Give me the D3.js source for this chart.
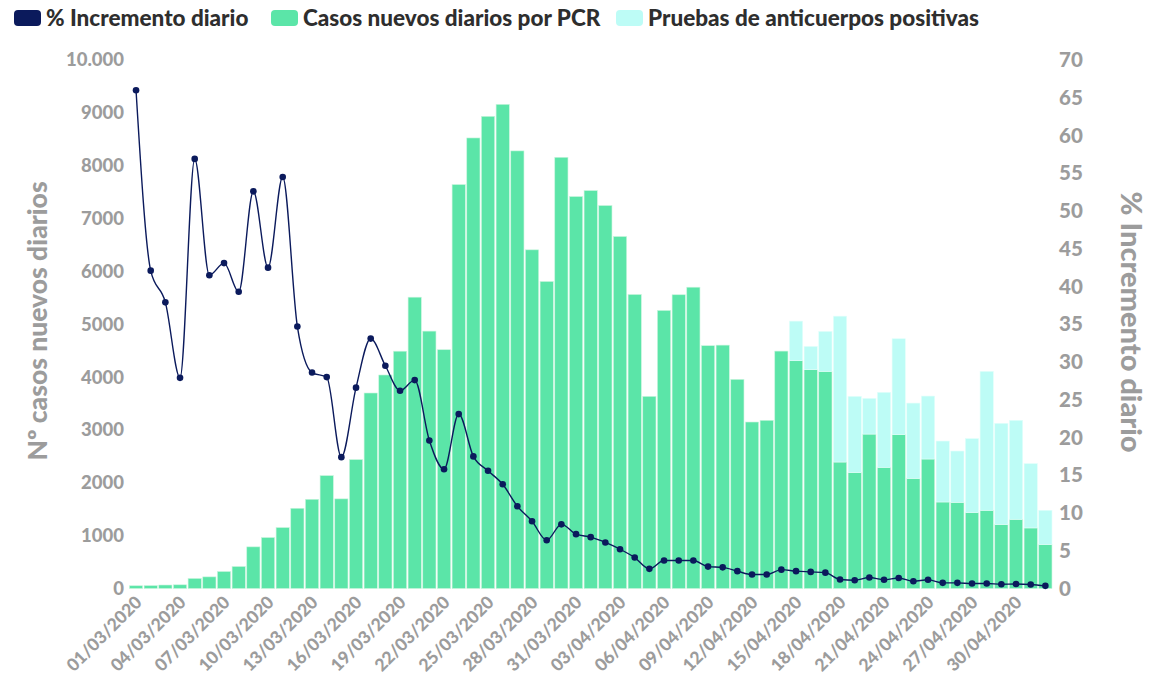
<!DOCTYPE html>
<html><head><meta charset="utf-8">
<script src="https://cdn.jsdelivr.net/npm/d3@7"></script>
<style>
html,body{margin:0;padding:0;background:#fff;}
svg{display:block;font-family:Lato,"Open Sans",sans-serif;}
</style></head>
<body>
<svg id="chart" width="1155" height="678"></svg>
<script>
const dates = ["01/03/2020","02/03/2020","03/03/2020","04/03/2020","05/03/2020","06/03/2020","07/03/2020","08/03/2020","09/03/2020","10/03/2020",
"11/03/2020","12/03/2020","13/03/2020","14/03/2020","15/03/2020","16/03/2020","17/03/2020","18/03/2020","19/03/2020","20/03/2020",
"21/03/2020","22/03/2020","23/03/2020","24/03/2020","25/03/2020","26/03/2020","27/03/2020","28/03/2020","29/03/2020","30/03/2020",
"31/03/2020","01/04/2020","02/04/2020","03/04/2020","04/04/2020","05/04/2020","06/04/2020","07/04/2020","08/04/2020","09/04/2020",
"10/04/2020","11/04/2020","12/04/2020","13/04/2020","14/04/2020","15/04/2020","16/04/2020","17/04/2020","18/04/2020","19/04/2020",
"20/04/2020","21/04/2020","22/04/2020","23/04/2020","24/04/2020","25/04/2020","26/04/2020","27/04/2020","28/04/2020","29/04/2020",
"30/04/2020","01/05/2020","02/05/2020"];

const casosPCR = [52,55,66,70,190,220,321,416,788,964,
1153,1518,1688,2136,1696,2439,3699,4040,4490,5512,
4870,4518,7643,8525,8934,9161,8280,6408,5809,8159,
7416,7529,7246,6660,5563,3635,5261,5558,5701,4594,
4605,3957,3150,3182,4492,4310,4140,4108,2393,2193,
2922,2293,2911,2085,2450,1637,1631,1437,1480,1210,
1310,1146,832];

const anticuerpos = [0,0,0,0,0,0,0,0,0,0,
0,0,0,0,0,0,0,0,0,0,
0,0,0,0,0,0,0,0,0,0,
0,0,0,0,0,0,0,0,0,0,
0,0,0,0,0,749,440,756,2760,1442,
675,1418,1815,1423,1191,1153,970,1399,2628,1915,
1872,1217,648];

const incremento = [66.0,42.1,37.9,27.9,56.9,41.5,43.1,39.3,52.6,42.5,
54.5,34.7,28.6,28.0,17.4,26.6,33.1,29.5,26.2,27.6,
19.6,15.8,23.1,17.5,15.6,13.8,10.9,8.9,6.4,8.5,
7.2,6.8,6.1,5.2,4.1,2.6,3.7,3.7,3.7,2.9,
2.8,2.3,1.85,1.85,2.5,2.3,2.2,2.1,1.2,1.1,
1.45,1.15,1.4,0.97,1.15,0.75,0.75,0.66,0.66,0.57,
0.6,0.53,0.35];

const xTickLabels = ["01/03/2020","04/03/2020","07/03/2020","10/03/2020","13/03/2020","16/03/2020","19/03/2020",
"22/03/2020","25/03/2020","28/03/2020","31/03/2020","03/04/2020","06/04/2020","09/04/2020","12/04/2020",
"15/04/2020","18/04/2020","21/04/2020","24/04/2020","27/04/2020","30/04/2020"];
const leftTicks = [0,1000,2000,3000,4000,5000,6000,7000,8000,9000,10000];
const leftTickLabels = ["0","1000","2000","3000","4000","5000","6000","7000","8000","9000","10.000"];
const rightTicks = [0,5,10,15,20,25,30,35,40,45,50,55,60,65,70];
const seriesNames = ["% Incremento diario","Casos nuevos diarios por PCR","Pruebas de anticuerpos positivas"];
const leftTitle = "Nº casos nuevos diarios";
const rightTitle = "% Incremento diario";

const C_LINE = "#0b1a5c", C_PCR = "#5be5a8", C_AB = "#bdfcf6", C_TXT = "#9c9c9c";

const svg = d3.select("#chart");
const x = d3.scaleBand().domain(dates).range([128.7, 1052.7]).paddingInner(0.1).paddingOuter(0.05);
const yL = d3.scaleLinear().domain([0,10000]).range([588.5,60]);
const yR = d3.scaleLinear().domain([0,70]).range([588.5,60]);

const data = dates.map((d,i)=>({d, pcr:casosPCR[i], ab:anticuerpos[i], pct:incremento[i]}));

// bars
const gB = svg.append("g");
gB.selectAll("rect.pcr").data(data).join("rect")
  .attr("x", d=>x(d.d)).attr("width", x.bandwidth())
  .attr("y", d=>yL(d.pcr)).attr("height", d=>yL(0)-yL(d.pcr))
  .attr("fill", C_PCR).attr("stroke","#c8f5dd").attr("stroke-width",0.6);
gB.selectAll("rect.ab").data(data.filter(d=>d.ab>0)).join("rect")
  .attr("x", d=>x(d.d)).attr("width", x.bandwidth())
  .attr("y", d=>yL(d.pcr+d.ab)).attr("height", d=>yL(d.pcr)-yL(d.pcr+d.ab))
  .attr("fill", C_AB).attr("stroke","#e2fffb").attr("stroke-width",0.6);

// line
const cx = d=>x(d.d)+x.bandwidth()/2;
svg.append("path").datum(data)
  .attr("d", d3.line().x(cx).y(d=>yR(d.pct)).curve(d3.curveMonotoneX))
  .attr("fill","none").attr("stroke",C_LINE).attr("stroke-width",1.4);
svg.append("g").selectAll("circle").data(data).join("circle")
  .attr("cx",cx).attr("cy",d=>yR(d.pct)).attr("r",3.3).attr("fill",C_LINE);

const W = "900";
// left axis
const axL = d3.axisLeft(yL).tickValues(leftTicks).tickSize(0).tickPadding(0)
  .tickFormat((d,i)=>leftTickLabels[i]);
const gL = svg.append("g").attr("transform","translate(124,0)").call(axL);
gL.select(".domain").remove();
gL.selectAll("text").attr("fill",C_TXT).style("font-size","18.5px").style("font-weight",W).style("font-family","Lato");

// right axis
const axR = d3.axisRight(yR).tickValues(rightTicks).tickSize(0).tickPadding(0);
const gR = svg.append("g").attr("transform","translate(1059,0)").call(axR);
gR.select(".domain").remove();
gR.selectAll("text").attr("fill",C_TXT).style("font-size","20.5px").style("font-weight",W).style("font-family","Lato");

// x axis
const axX = d3.axisBottom(x).tickValues(xTickLabels).tickSize(0).tickPadding(0);
const gX = svg.append("g").attr("transform","translate(0,588.5)").call(axX);
gX.select(".domain").remove();
gX.selectAll("text").attr("fill",C_TXT).style("font-size","17.5px").style("font-weight",W).style("font-family","Lato")
  .attr("text-anchor","end").attr("dy",null).attr("y",0).attr("x",0)
  .attr("transform","translate(7,15) rotate(-45)");

// axis titles
svg.append("text").attr("transform","translate(47,321) rotate(-90)").attr("text-anchor","middle")
  .attr("fill",C_TXT).style("font-size","26.5px").style("font-weight",W).text(leftTitle);
svg.append("text").attr("transform","translate(1121,322) rotate(90)").attr("text-anchor","middle")
  .attr("fill",C_TXT).style("font-size","29px").style("font-weight",W).text(rightTitle);

// legend
const legX = [14, 271, 616];
const legC = [C_LINE, C_PCR, C_AB];
const gLeg = svg.append("g");
seriesNames.forEach((n,i)=>{
  gLeg.append("rect").attr("x",legX[i]).attr("y",10).attr("width",27).attr("height",16).attr("rx",4).attr("fill",legC[i]);
  gLeg.append("text").attr("x",legX[i]+32).attr("y",25.5).attr("fill","#2e2e2e")
    .style("font-size","22.5px").style("font-weight",W).text(n);
});
</script>
</body></html>
